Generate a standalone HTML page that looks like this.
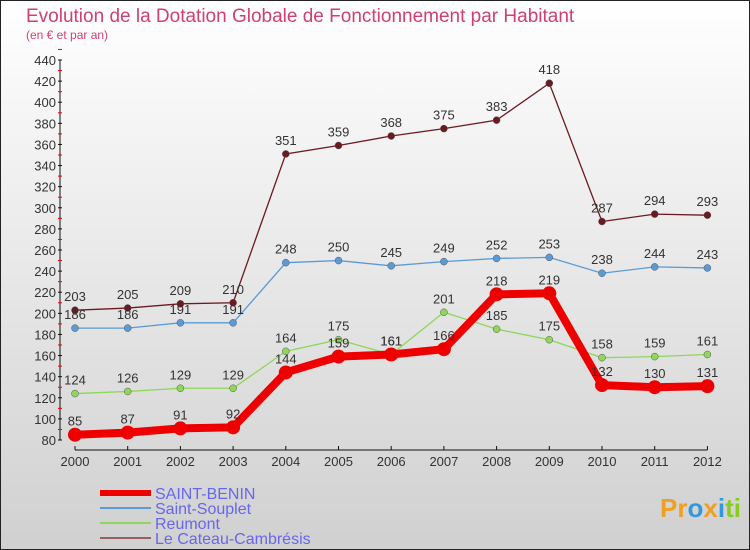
<!DOCTYPE html>
<html><head><meta charset="utf-8"><style>
body{margin:0;width:750px;height:550px;overflow:hidden;font-family:"Liberation Sans",sans-serif}
#c{position:absolute;left:0;top:0;width:748px;height:548px;border:1px solid #222;background:linear-gradient(#ffffff,#d0d0d0)}
</style></head><body>
<div id="c"></div>
<svg id="s" width="750" height="550" style="position:absolute;left:0;top:0" font-family="Liberation Sans, sans-serif">
<text x="26" y="22" font-size="19" fill="#d04070">Evolution de la Dotation Globale de Fonctionnement par Habitant</text>
<text x="26" y="39" font-size="12" fill="#d04070">(en € et par an)</text>
<text x="660" y="517" font-size="26" font-weight="bold" fill="#f0a020">Pr<tspan fill="#3399dd">o</tspan><tspan fill="#f0a020">x</tspan><tspan fill="#3399dd">i</tspan><tspan fill="#88cc22">ti</tspan></text>
<g id="axes"></g><g id="series"></g><g id="legend"></g>
</svg>
<script>
const years=[2000,2001,2002,2003,2004,2005,2006,2007,2008,2009,2010,2011,2012];
const yTicks=[80,100,120,140,160,180,200,220,240,260,280,300,320,340,360,380,400,420,440];
const saintBenin=[85,87,91,92,144,159,161,166,218,219,132,130,131];
const saintSouplet=[186,186,191,191,248,250,245,249,252,253,238,244,243];
const reumont=[124,126,129,129,164,175,161,201,185,175,158,159,161];
const cateau=[203,205,209,210,351,359,368,375,383,418,287,294,293];
const NS="http://www.w3.org/2000/svg";
const X=i=>75+i*52.7;
const Y=v=>440-(v-80)*380/360;
function mk(t,a,p){const e=document.createElementNS(NS,t);for(const k in a)e.setAttribute(k,a[k]);p.appendChild(e);return e;}
const ax=document.getElementById('axes');
let l=mk('line',{x1:60,y1:Y(80),x2:60,y2:Y(440),stroke:'#111'},ax);


yTicks.forEach(v=>{
 mk('line',{x1:58,x2:62,y1:Y(v),y2:Y(v),stroke:'#111'},ax);
 mk('line',{x1:58,x2:62,y1:Y(v+10),y2:Y(v+10),stroke:'#e00'},ax);
 const t=mk('text',{x:56,y:Y(v)+5,'text-anchor':'end','font-size':13,fill:'#333'},ax);t.textContent=v;
 
 
});
l=mk('line',{x1:X(0),x2:X(12),y1:450,y2:450,stroke:'#111'},ax);


years.forEach((y,i)=>{
 mk('line',{x1:X(i),x2:X(i),y1:446,y2:450,stroke:'#111'},ax);
 const t=mk('text',{x:X(i),y:466,'text-anchor':'middle','font-size':13,fill:'#333'},ax);t.textContent=y;
 
 
});
const sg=document.getElementById('series');
const defs=[[cateau,'#6b1a20',1.3,3.5,'le-cateau'],[saintSouplet,'#5b9bd5',1.3,3.5,'saint-souplet'],[reumont,'#8fd65a',1.3,3.5,'reumont'],[saintBenin,'#ee0000',8,7,'saint-benin']];
defs.forEach(([d,c,w,r,n])=>{
 const g=mk('g',{},sg);
 
 
 const p=mk('polyline',{points:d.map((v,i)=>X(i)+','+Y(v)).join(' '),fill:'none',stroke:c,'stroke-width':w},g);
 
 
 d.forEach((v,i)=>{
  const ci=mk('circle',{cx:X(i),cy:Y(v),r:r,fill:c,stroke:w>2?'none':'#555','stroke-width':0.5},g);
  
  
  const t=mk('text',{x:X(i),y:Y(v)-9,'text-anchor':'middle','font-size':13,fill:'#333'},g);t.textContent=v;
  
  
 });
});
const lg=document.getElementById('legend');
[['SAINT-BENIN','#ee0000',6],['Saint-Souplet','#5b9bd5',2],['Reumont','#8fd65a',2],['Le Cateau-Cambrésis','#946060',2]].forEach(([n,c,w],i)=>{
 const y=493+i*15;
 const g=mk('g',{},lg);
 
 
 mk('line',{x1:100,x2:151,y1:y,y2:y,stroke:c,'stroke-width':w},g);
 const t=mk('text',{x:155,y:y+6,'font-size':16,fill:'#6666ee'},g);t.textContent=n;
});
</script>
</body></html>
